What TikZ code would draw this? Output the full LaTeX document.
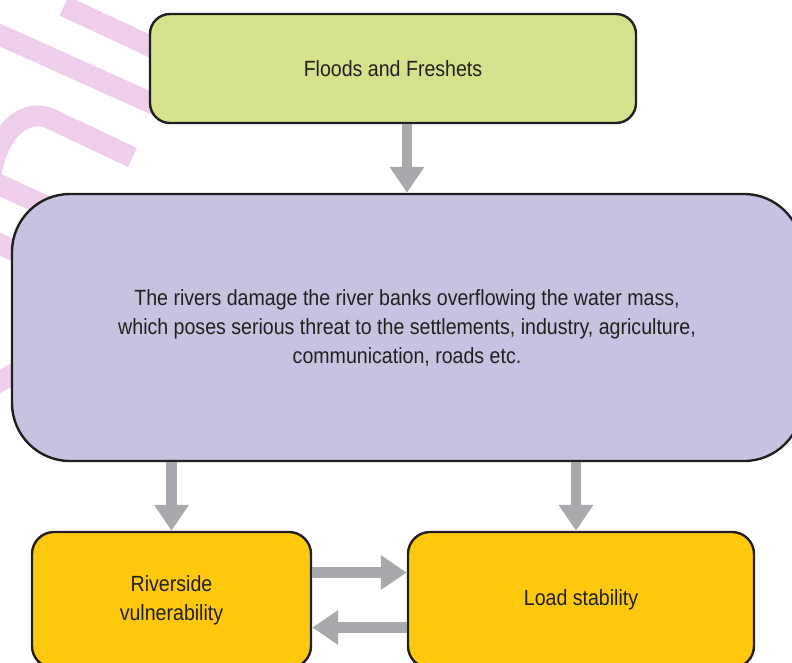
\documentclass[tikz,border=0pt]{standalone}
\usepackage{fontspec}
\setmainfont{Liberation Sans}[FakeStretch=0.89]
\usetikzlibrary{arrows.meta}
\definecolor{inkc}{HTML}{231F20}
\definecolor{greenc}{HTML}{D5E28B}
\definecolor{lavc}{HTML}{C6C3E1}
\definecolor{yelc}{HTML}{FEC90C}
\definecolor{grayc}{HTML}{A7A9AC}
\definecolor{pinkc}{HTML}{EFCEEC}
\tikzset{
  box/.style={draw=inkc, line width=2.4pt, text=inkc, align=center, inner sep=0pt,
    font=\fontsize{22}{29}\selectfont},
  topbox/.style={box, fill=greenc, rounded corners=20pt, minimum width=486pt, minimum height=109pt},
  bigbox/.style={box, fill=lavc, rounded corners=58pt, minimum width=790pt, minimum height=267pt},
  yelbox/.style={box, fill=yelc, rounded corners=22pt, minimum height=136pt},
  arr/.style={draw=grayc, line width=10.5pt, -{Triangle[length=26pt,width=33pt,fill=grayc]}},
  wm/.style={draw=pinkc, line width=21pt, line cap=butt}
}
\begin{document}
\begin{tikzpicture}[x=1pt,y=-1pt]
\useasboundingbox (0,0) rectangle (792,662);
\clip (0,0) rectangle (792,662);
% watermark fragments
\draw[wm] (64,6) -- (250,93);
\draw[wm] (-20,26) -- (160,107);
\draw[wm] (-40,166.6) -- (70,217.2);
\draw[wm] (-10,181) .. controls (-6,140) and (20,106) .. (50,118.5) -- (132.5,157.5);
\draw[wm] (-20,235) -- (50,267);
\draw[wm] (-20,392) -- (40,360);
% boxes
\node[topbox] (top) at (393,68.5) {Floods and Freshets};
\node[bigbox] (big) at (407,327.5) {The rivers damage the river banks overflowing the water mass,\\
which poses serious threat to the settlements, industry, agriculture,\\
communication, roads etc.};
\node[yelbox, minimum width=279pt] (left) at (171.5,600) {Riverside\\vulnerability};
\node[yelbox, minimum width=346pt] (right) at (581,600) {Load stability};
% arrows
\draw[arr] (big.north |- top.south) -- (big.north);
\draw[arr] (left.north |- big.south) -- (left.north);
\coordinate (rn) at ([xshift=-5pt]right.north);
\draw[arr] (rn |- big.south) -- (rn);
\draw[arr] ([yshift=27.5pt]left.east) -- ([yshift=27.5pt]right.west);
\draw[arr] ([yshift=-27.5pt]right.west) -- ([yshift=-27.5pt]left.east);
\end{tikzpicture}
\end{document}
